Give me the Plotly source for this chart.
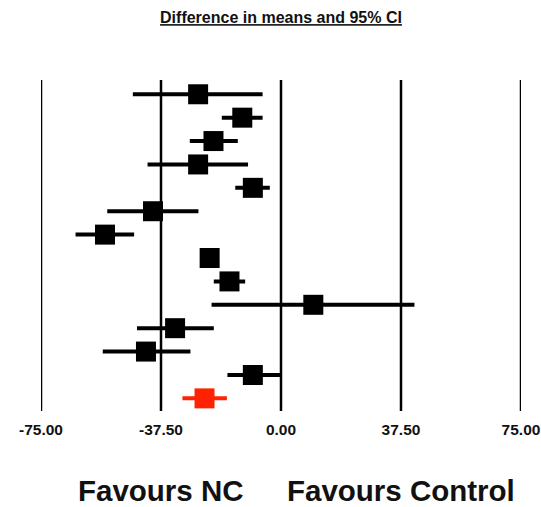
import plotly.graph_objects as go

# Study-level differences in means (NC minus Control) with 95% CI, top row first
study_mean = [-25.9, -12.1, -21.1, -25.9, -8.8, -40.0, -55.0, -22.3, -16.1, 10.1, -33.1, -42.2, -8.8]
study_lo = [-46.3, -18.5, -28.5, -41.7, -14.3, -54.3, -64.2, -24.5, -21.0, -21.7, -45.0, -55.7, -16.75]
study_hi = [-5.75, -5.75, -13.5, -10.3, -3.5, -25.8, -45.9, -20.0, -11.2, 41.7, -21.0, -28.3, -0.3]

# Pooled estimate
pooled_mean = [-23.9]
pooled_lo = [-30.8]
pooled_hi = [-16.9]

tick_vals = [-75, -37.5, 0, 37.5, 75]
tick_text = ["-75.00", "-37.50", "0.00", "37.50", "75.00"]

n_study = len(study_mean)
study_rows = list(range(1, n_study + 1))
pooled_rows = [n_study + 1]

FONT = "Liberation Sans, Arial, sans-serif"
RED = "#ff2200"

fig = go.Figure()

fig.add_trace(go.Scatter(
    x=study_mean, y=study_rows, mode="markers",
    marker=dict(symbol="square", size=20, color="black", line=dict(width=0)),
    error_x=dict(type="data", symmetric=False,
                 array=[h - m for h, m in zip(study_hi, study_mean)],
                 arrayminus=[m - l for m, l in zip(study_mean, study_lo)],
                 color="black", thickness=4, width=0),
    showlegend=False, hoverinfo="x",
))

fig.add_trace(go.Scatter(
    x=pooled_mean, y=pooled_rows, mode="markers",
    marker=dict(symbol="square", size=20, color=RED, line=dict(width=0)),
    error_x=dict(type="data", symmetric=False,
                 array=[h - m for h, m in zip(pooled_hi, pooled_mean)],
                 arrayminus=[m - l for m, l in zip(pooled_mean, pooled_lo)],
                 color=RED, thickness=4, width=0),
    showlegend=False, hoverinfo="x",
))

# Vertical reference lines at each tick value
for v in tick_vals:
    fig.add_shape(type="line", xref="x", yref="paper", x0=v, x1=v, y0=0, y1=1,
                  line=dict(color="black", width=2.5), layer="below")

fig.add_annotation(x=-37.5, y=-0.2387, xref="x", yref="paper", text="<b>Favours NC</b>",
                   showarrow=False, yanchor="middle", xanchor="center",
                   font=dict(family=FONT, size=29.5, color="#111111"))
fig.add_annotation(x=37.5, y=-0.2387, xref="x", yref="paper", text="<b>Favours Control</b>",
                   showarrow=False, yanchor="middle", xanchor="center",
                   font=dict(family=FONT, size=29.5, color="#111111"))

fig.update_layout(
    width=541, height=507,
    margin=dict(l=41, r=20, t=80, b=96, autoexpand=False),
    paper_bgcolor="white", plot_bgcolor="white",
    title=dict(text="<u><b>Difference in means and 95% CI</b></u>",
               x=0.5, xref="paper", xanchor="center",
               y=1 - 17.5 / 507, yref="container", yanchor="middle",
               font=dict(family=FONT, size=16, color="#111111")),
    xaxis=dict(range=[-75, 75], tickvals=tick_vals,
               ticktext=["<b>%s</b>" % t for t in tick_text],
               showgrid=False, zeroline=False, showline=False, ticks="",
               ticklabelstandoff=7, automargin=False,
               tickfont=dict(family=FONT, size=15.5, color="#111111")),
    yaxis=dict(range=[n_study + 1 + 0.54, 0.39], visible=False,
               showgrid=False, zeroline=False, automargin=False),
)

fig.write_html("out.html")
